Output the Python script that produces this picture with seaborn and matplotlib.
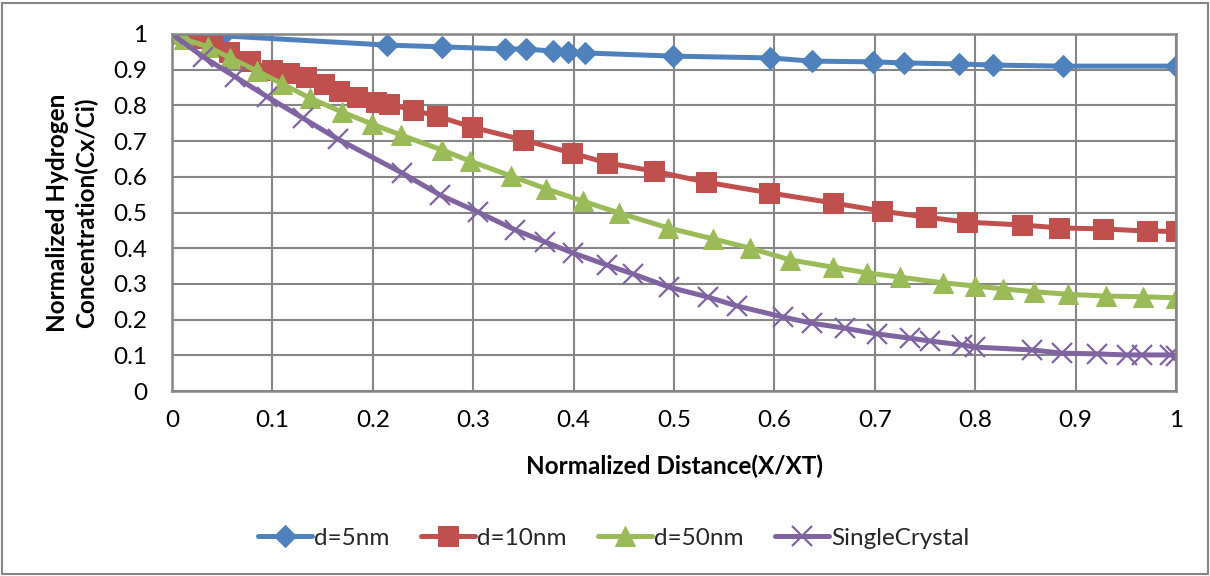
import matplotlib
matplotlib.use("Agg")
import matplotlib.pyplot as plt
import seaborn as sns
import pandas as pd
from matplotlib.patches import Rectangle

# Normalized distance (X/XT) and normalized hydrogen concentration (Cx/Ci)
x_5nm = [0.0, 0.05, 0.214, 0.269, 0.332, 0.353, 0.379, 0.394, 0.411, 0.499,
         0.596, 0.637, 0.698, 0.729, 0.784, 0.818, 0.887, 1.0]
y_5nm = [1.0, 0.995, 0.969, 0.964, 0.958, 0.958, 0.952, 0.950, 0.947, 0.938,
         0.933, 0.924, 0.922, 0.919, 0.916, 0.913, 0.910, 0.910]

x_10nm = [0.0, 0.020, 0.040, 0.057, 0.078, 0.100, 0.117, 0.133, 0.151, 0.166,
          0.184, 0.203, 0.216, 0.240, 0.264, 0.299, 0.350, 0.398, 0.433, 0.480,
          0.532, 0.595, 0.658, 0.707, 0.751, 0.792, 0.847, 0.883, 0.927, 0.971, 1.0]
y_10nm = [1.0, 0.989, 0.966, 0.950, 0.924, 0.899, 0.891, 0.880, 0.860, 0.840,
          0.824, 0.810, 0.804, 0.787, 0.770, 0.739, 0.703, 0.667, 0.639, 0.616,
          0.585, 0.555, 0.527, 0.504, 0.487, 0.473, 0.465, 0.457, 0.454, 0.448, 0.447]

x_50nm = [0.0, 0.012, 0.036, 0.058, 0.085, 0.110, 0.137, 0.169, 0.199, 0.228,
          0.269, 0.297, 0.338, 0.373, 0.409, 0.445, 0.494, 0.539, 0.576, 0.616,
          0.658, 0.692, 0.725, 0.768, 0.800, 0.828, 0.859, 0.892, 0.930, 0.967, 1.0]
y_50nm = [1.0, 0.986, 0.964, 0.933, 0.896, 0.860, 0.821, 0.782, 0.748, 0.717,
          0.675, 0.644, 0.602, 0.566, 0.532, 0.499, 0.457, 0.426, 0.400, 0.367,
          0.347, 0.331, 0.319, 0.303, 0.294, 0.286, 0.278, 0.271, 0.266, 0.264, 0.261]

x_single = [0.0, 0.031, 0.063, 0.095, 0.130, 0.165, 0.229, 0.267, 0.305, 0.342,
            0.372, 0.399, 0.433, 0.459, 0.495, 0.534, 0.563, 0.609, 0.637, 0.670,
            0.702, 0.735, 0.755, 0.787, 0.800, 0.857, 0.886, 0.921, 0.951, 0.966,
            0.994, 1.0]
y_single = [1.0, 0.936, 0.880, 0.824, 0.765, 0.706, 0.611, 0.549, 0.501, 0.451,
            0.417, 0.387, 0.353, 0.328, 0.291, 0.263, 0.238, 0.207, 0.190, 0.176,
            0.160, 0.148, 0.140, 0.129, 0.123, 0.115, 0.106, 0.104, 0.101, 0.101,
            0.101, 0.098]

series_names = ["d=5nm", "d=10nm", "d=50nm", "SingleCrystal"]
x_ticks = [0, 0.1, 0.2, 0.3, 0.4, 0.5, 0.6, 0.7, 0.8, 0.9, 1]
y_ticks = [0, 0.1, 0.2, 0.3, 0.4, 0.5, 0.6, 0.7, 0.8, 0.9, 1]

sns.set_theme(style="white")
plt.rcParams["font.family"] = ["Lato", "DejaVu Sans"]

fig = plt.figure(figsize=(12.10, 5.76), dpi=100)
ax = fig.add_axes([172 / 1210, 1 - 391 / 576, 1004 / 1210, 357 / 576])

styles = [
    dict(color="#4F81BD", marker="D", markersize=11),
    dict(color="#C0504D", marker="s", markersize=14),
    dict(color="#9BBB59", marker="^", markersize=14),
    dict(color="#8064A2", marker="x", markersize=14, markeredgewidth=1.6),
]
data = [(x_5nm, y_5nm), (x_10nm, y_10nm), (x_50nm, y_50nm), (x_single, y_single)]

for name, (xs, ys), st in zip(series_names, data, styles):
    df = pd.DataFrame({"x": xs, "y": ys})
    sns.lineplot(data=df, x="x", y="y", ax=ax, sort=False, estimator=None,
                 label=name, linewidth=3.6, markeredgecolor=st["color"], **st)

ax.set_xlim(0, 1)
ax.set_ylim(0, 1)
ax.set_xticks(x_ticks)
ax.set_yticks(y_ticks)
ax.set_xticklabels([f"{t:g}" for t in x_ticks])
ax.set_yticklabels([f"{t:g}" for t in y_ticks])
ax.tick_params(axis="both", length=0, labelsize=17.5, colors="black")
ax.tick_params(axis="y", pad=18)
ax.tick_params(axis="x", pad=14)

ax.grid(True, color="#868686", linewidth=1.5)
ax.set_axisbelow(True)
for side in ["left", "bottom", "right", "top"]:
    ax.spines[side].set_visible(True)
    ax.spines[side].set_color("#868686")
    ax.spines[side].set_linewidth(1.8)

ax.set_xlabel("Normalized Distance(X/XT)", fontsize=17.5, fontweight="bold", color="black")
ax.xaxis.set_label_coords(0.5, (391 - 466) / 357)
ax.xaxis.label.set_verticalalignment("center")

ax.set_ylabel("Normalized Hydrogen\nConcentration(Cx/Ci)", fontsize=17.5,
              fontweight="bold", color="black", linespacing=1.3)
ax.yaxis.set_label_coords((72 - 172) / 1004, 0.5)
ax.yaxis.label.set_verticalalignment("center")

handles, labels = ax.get_legend_handles_labels()
ax.legend(handles, labels, loc="center", bbox_to_anchor=(614 / 1210, 1 - 538 / 576),
          bbox_transform=fig.transFigure, ncol=4, frameon=False, fontsize=17.5,
          handlelength=2.2, handletextpad=0.1, columnspacing=1.3, markerscale=1.0)

# Chart-area frame
fig.patches.append(Rectangle((2 / 1210, 2 / 576), 1206 / 1210, 571 / 576,
                             transform=fig.transFigure, fill=False,
                             edgecolor="#868686", linewidth=1.5))

fig.savefig("out.png", dpi=100)
